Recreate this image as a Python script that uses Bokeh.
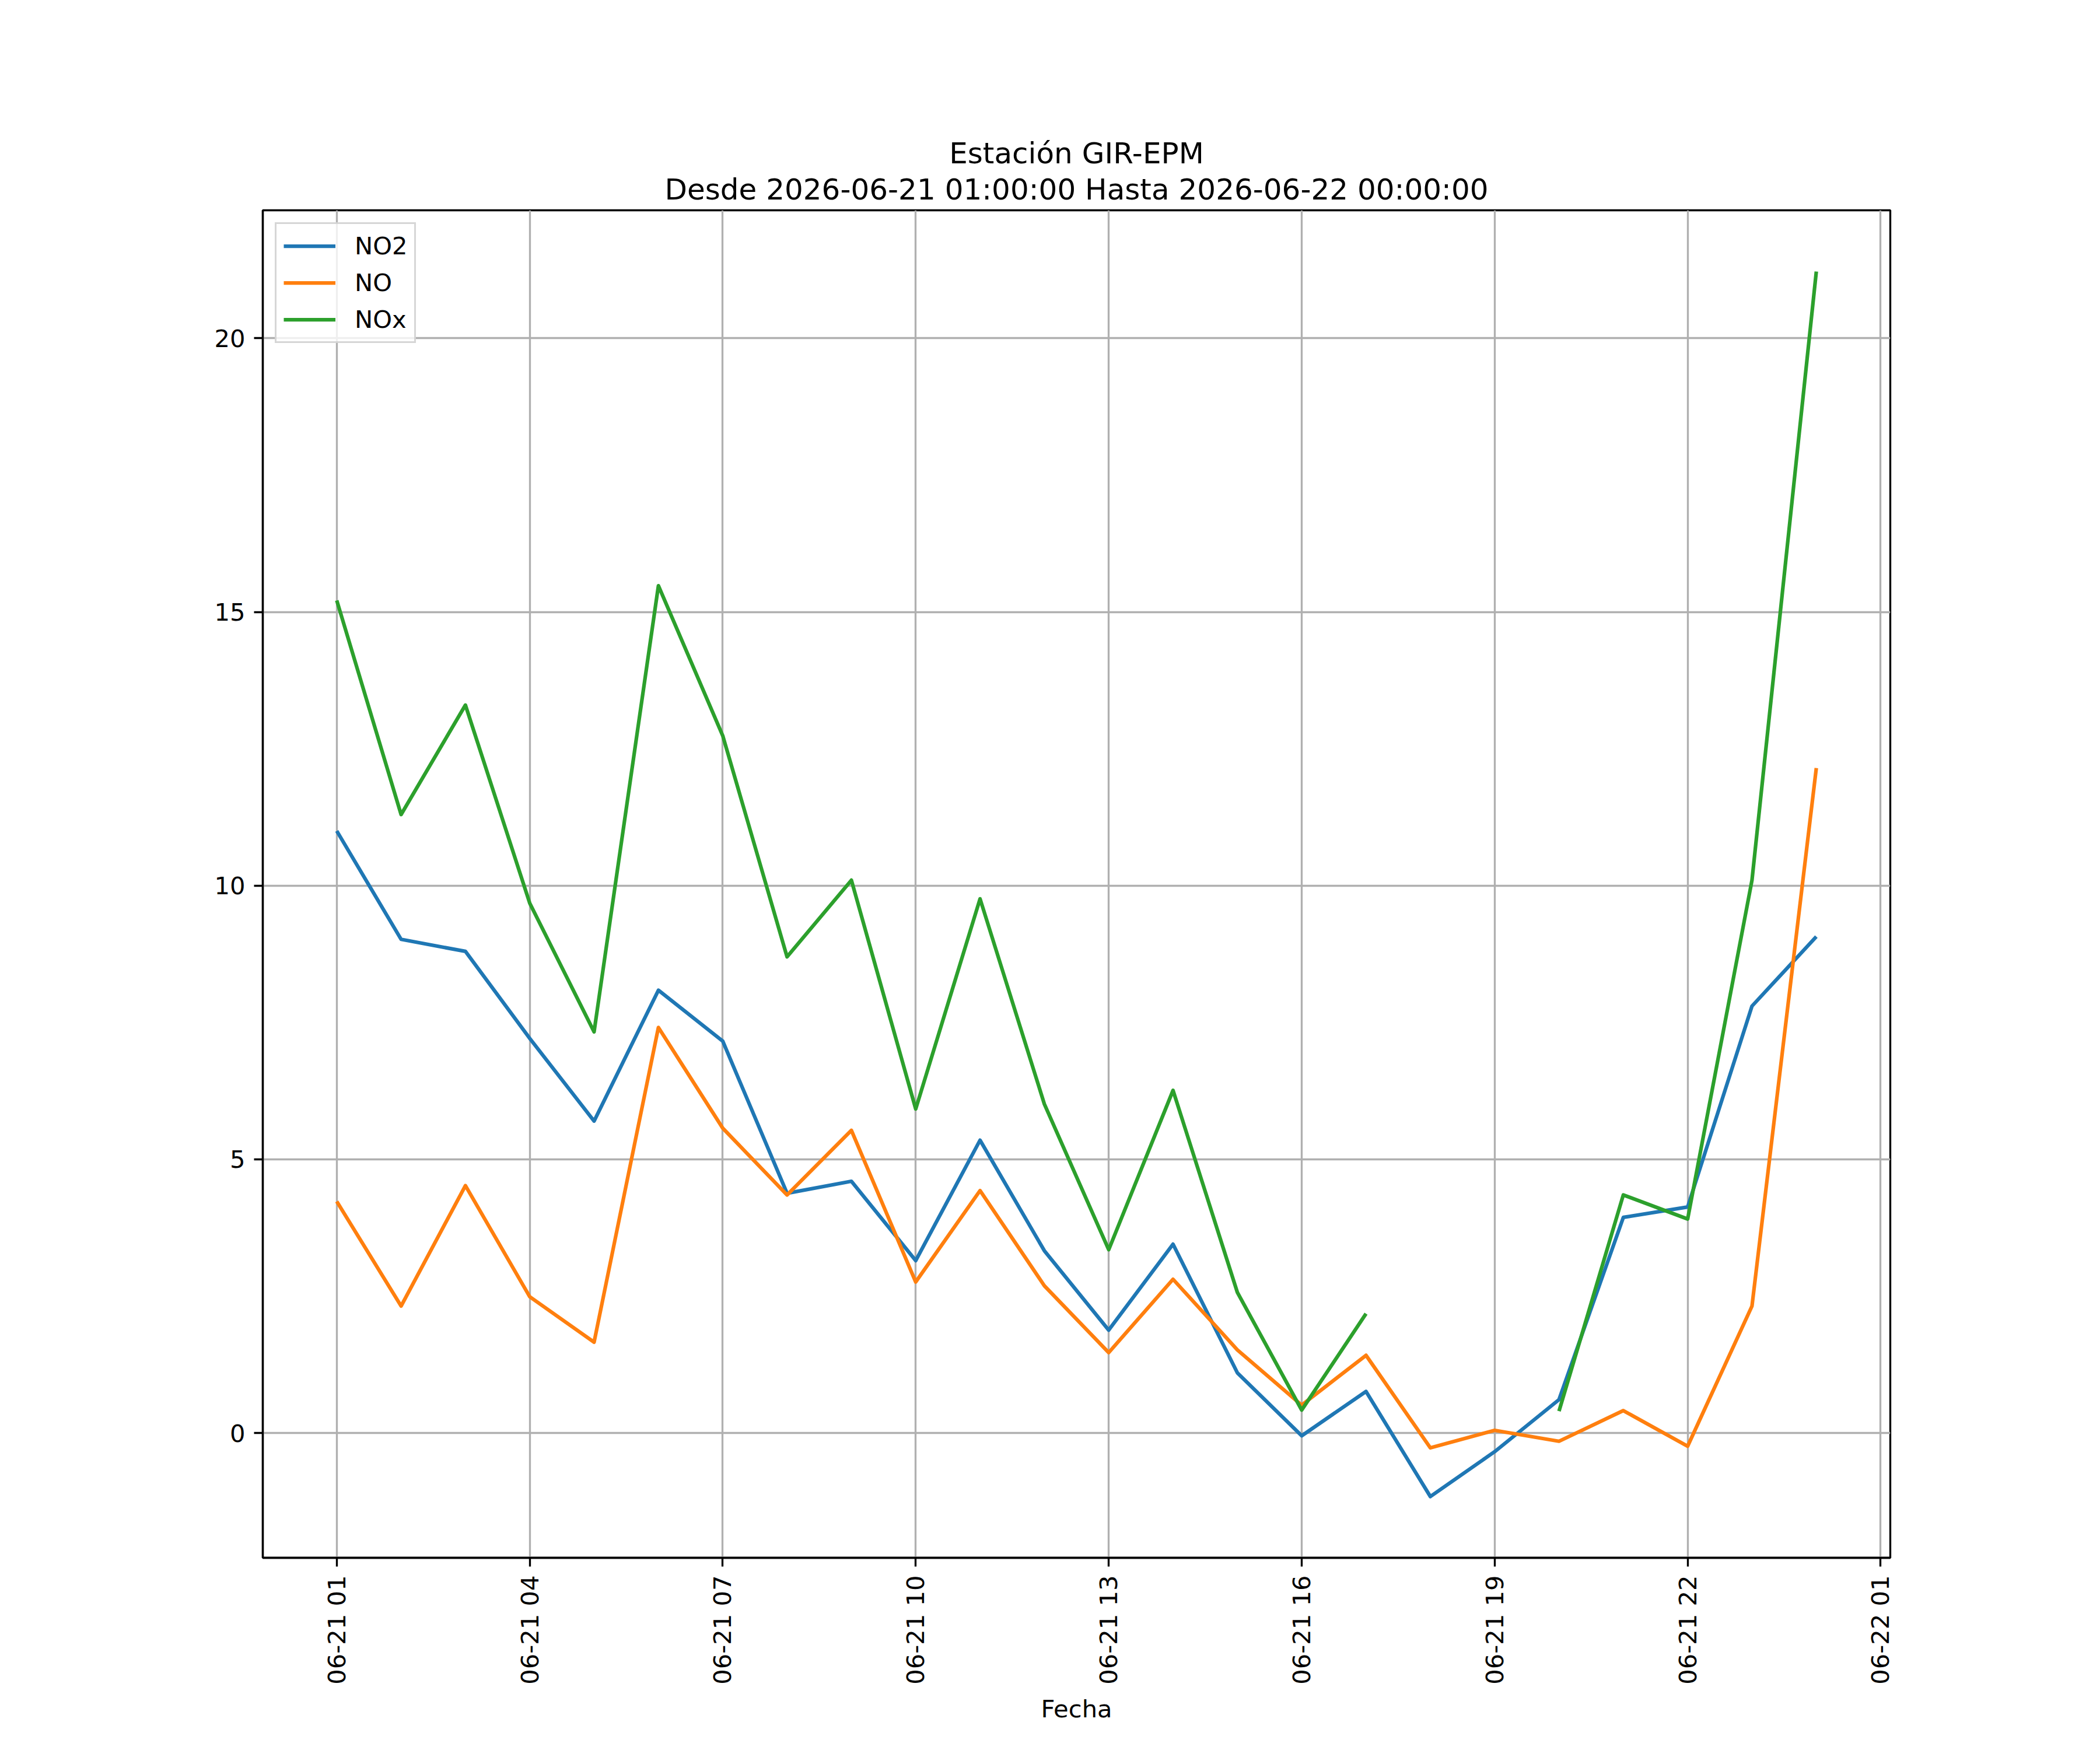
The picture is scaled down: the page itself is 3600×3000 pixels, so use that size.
import math
import numpy as np
import pandas as pd
from bokeh.plotting import figure
from bokeh.models import (Range1d, FixedTicker, DatetimeTickFormatter, Title,
                          Legend, LegendItem)
from bokeh.embed import file_html
from bokeh.resources import INLINE

# ---------------- data ----------------
times = ["2026-06-21 01:00", "2026-06-21 02:00", "2026-06-21 03:00", "2026-06-21 04:00",
         "2026-06-21 05:00", "2026-06-21 06:00", "2026-06-21 07:00", "2026-06-21 08:00",
         "2026-06-21 09:00", "2026-06-21 10:00", "2026-06-21 11:00", "2026-06-21 12:00",
         "2026-06-21 13:00", "2026-06-21 14:00", "2026-06-21 15:00", "2026-06-21 16:00",
         "2026-06-21 17:00", "2026-06-21 18:00", "2026-06-21 19:00", "2026-06-21 20:00",
         "2026-06-21 21:00", "2026-06-21 22:00", "2026-06-21 23:00", "2026-06-22 00:00"]

no2 = [11.00, 9.02, 8.80, 7.21, 5.70, 8.09, 7.16, 4.38, 4.60, 3.15, 5.35, 3.33,
       1.88, 3.45, 1.10, -0.05, 0.76, -1.16, -0.34, 0.61, 3.94, 4.13, 7.80, 9.07]

no = [4.23, 2.32, 4.52, 2.49, 1.66, 7.41, 5.57, 4.35, 5.53, 2.76, 4.43, 2.69,
      1.47, 2.81, 1.52, 0.51, 1.42, -0.27, 0.05, -0.15, 0.41, -0.24, 2.32, 12.15]

nox = [15.21, 11.30, 13.30, 9.68, 7.33, 15.48, 12.74, 8.70, 10.10, 5.92, 9.76, 6.01,
       3.35, 6.26, 2.57, 0.42, 2.18, np.nan, np.nan, 0.40, 4.35, 3.91, 10.10, 21.22]

series_names = ["NO2", "NO", "NOx"]
series_colors = ["#1f77b4", "#ff7f0e", "#2ca02c"]

xtick_times = ["2026-06-21 01:00", "2026-06-21 04:00", "2026-06-21 07:00",
               "2026-06-21 10:00", "2026-06-21 13:00", "2026-06-21 16:00",
               "2026-06-21 19:00", "2026-06-21 22:00", "2026-06-22 01:00"]
ytick_values = [0, 5, 10, 15, 20]

title_line1 = "Estación GIR-EPM"
title_line2 = "Desde 2026-06-21 01:00:00 Hasta 2026-06-22 00:00:00"
x_label = "Fecha"

# ---------------- helpers ----------------
EPOCH = pd.Timestamp("1970-01-01")
def to_ms(ts):
    return [float((pd.Timestamp(t) - EPOCH) / pd.Timedelta(milliseconds=1)) for t in ts]

x_ms = to_ms(times)
xt_ms = to_ms(xtick_times)

# matplotlib-like 5% margins
xmin, xmax = min(x_ms), max(x_ms)
dx = xmax - xmin
all_y = np.array(no2 + no + [v for v in nox if not np.isnan(v)])
ymin, ymax = float(all_y.min()), float(all_y.max())
dy = ymax - ymin

FONT = "DejaVu Sans"
PT = 300.0 / 72.0  # px per point

p = figure(frame_width=2790, frame_height=2310,
           x_axis_type="datetime",
           x_range=Range1d(xmin - 0.05 * dx, xmax + 0.05 * dx),
           y_range=Range1d(ymin - 0.05 * dy, ymax + 0.05 * dy),
           min_border_left=450, min_border_right=344,
           min_border_top=360, min_border_bottom=314,
           output_backend="svg", toolbar_location=None,
           background_fill_color="white", border_fill_color="white")

p.outline_line_color = "black"
p.outline_line_width = 0.8 * PT
p.outline_line_alpha = 1.0

# titles (first added is nearest the frame)
p.add_layout(Title(text=title_line2, align="center", text_font=FONT,
                   text_font_size="50px", text_font_style="normal",
                   text_color="black", standoff=14), "above")
p.add_layout(Title(text=title_line1, align="center", text_font=FONT,
                   text_font_size="50px", text_font_style="normal",
                   text_color="black", standoff=-10), "above")

# axes
p.xaxis.ticker = FixedTicker(ticks=xt_ms)
p.yaxis.ticker = FixedTicker(ticks=ytick_values)
p.xaxis.formatter = DatetimeTickFormatter(hourmin="%m-%d %H", hours="%m-%d %H",
                                          days="%m-%d %H", months="%m-%d %H",
                                          strip_leading_zeros=False)
p.xaxis.major_label_orientation = math.pi / 2

for ax in (p.xaxis[0], p.yaxis[0]):
    ax.axis_line_color = "black"
    ax.axis_line_width = 0.8 * PT
    ax.major_tick_line_color = "black"
    ax.major_tick_line_width = 0.8 * PT
    ax.major_tick_out = 15
    ax.major_tick_in = 0
    ax.minor_tick_out = 0
    ax.minor_tick_in = 0
    ax.major_label_text_font = FONT
    ax.major_label_text_font_size = "41.67px"
    ax.major_label_text_color = "black"
    ax.major_label_standoff = 15
    ax.axis_label_text_font = FONT
    ax.axis_label_text_font_size = "41.67px"
    ax.axis_label_text_font_style = "normal"
    ax.axis_label_text_color = "black"

p.xaxis.axis_label = x_label
p.xaxis.axis_label_standoff = 14

for g in (p.xgrid[0], p.ygrid[0]):
    g.grid_line_color = "#b0b0b0"
    g.grid_line_width = 0.8 * PT
    g.grid_line_alpha = 1.0

# lines
items = []
for name, vals, col in zip(series_names, [no2, no, nox], series_colors):
    r = p.line(x_ms, vals, line_color=col, line_width=1.5 * PT, line_join="round")
    items.append(LegendItem(label=name, renderers=[r]))

legend = Legend(items=items, location="top_left", margin=21,
                padding=12, spacing=12, glyph_width=89, glyph_height=51,
                label_standoff=33, label_text_font=FONT,
                label_text_font_size="41.67px", label_text_color="black",
                border_line_color="#cccccc", border_line_width=0.8 * PT,
                border_line_alpha=0.8,
                background_fill_color="white", background_fill_alpha=0.8)
p.add_layout(legend, "center")

open("out.html", "w").write(file_html(p, INLINE))
